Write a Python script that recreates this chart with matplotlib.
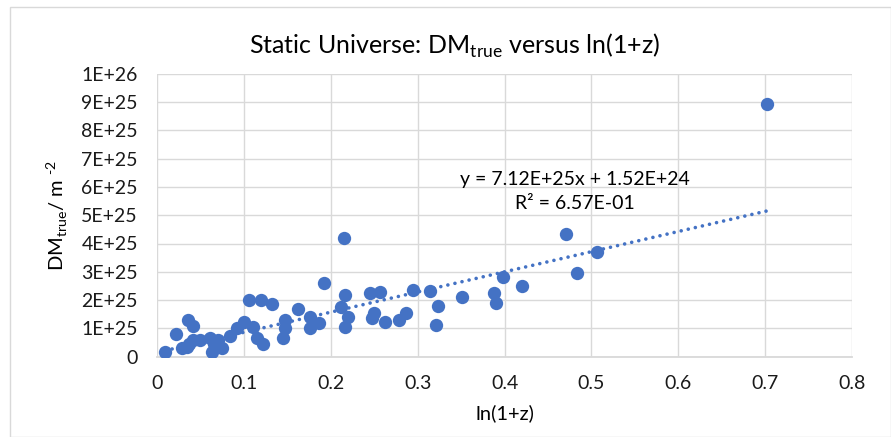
import matplotlib
matplotlib.use("Agg")
import matplotlib.pyplot as plt
import numpy as np
from matplotlib.patches import Rectangle

# ---- data (ln(1+z), DM_true in m^-2) ----
ln1z = [0.0089, 0.0216, 0.0348, 0.0415, 0.0281, 0.0339, 0.0366, 0.0415, 0.0492,
        0.0608, 0.0627, 0.0704, 0.0743, 0.0654, 0.0839, 0.0923, 0.0994, 0.1061,
        0.1107, 0.1196, 0.1326, 0.1146, 0.1216, 0.1473, 0.1473, 0.1453, 0.1626,
        0.1761, 0.1761, 0.1859, 0.1923, 0.2145, 0.2165, 0.2119, 0.2194, 0.2165,
        0.2448, 0.2561, 0.2491, 0.2468, 0.2621, 0.2780, 0.2863, 0.2946, 0.3142,
        0.3230, 0.3211, 0.3511, 0.3875, 0.3901, 0.3984, 0.4203, 0.4702, 0.4829,
        0.5068, 0.7021]
dm_true = [0.18, 0.80, 1.30, 1.08, 0.30, 0.35, 0.45, 0.59, 0.59,
           0.65, 0.18, 0.59, 0.30, 0.45, 0.73, 1.00, 1.24, 1.99,
           1.06, 1.99, 1.86, 0.65, 0.45, 1.30, 1.00, 0.65, 1.67,
           1.39, 1.00, 1.18, 2.62, 4.18, 2.18, 1.76, 1.42, 1.05,
           2.24, 2.30, 1.55, 1.35, 1.24, 1.30, 1.54, 2.37, 2.31,
           1.79, 1.11, 2.12, 2.26, 1.91, 2.81, 2.50, 4.33, 2.95,
           3.69, 8.92]
dm_true = [v * 1e25 for v in dm_true]

slope = 7.12e25
intercept = 1.52e24
r_squared = 0.657

x_ticks = [0, 0.1, 0.2, 0.3, 0.4, 0.5, 0.6, 0.7, 0.8]
y_ticks = [0, 1e25, 2e25, 3e25, 4e25, 5e25, 6e25, 7e25, 8e25, 9e25, 1e26]
y_tick_labels = ["0", "1E+25", "2E+25", "3E+25", "4E+25", "5E+25",
                 "6E+25", "7E+25", "8E+25", "9E+25", "1E+26"]

font = "Lato"
plt.rcParams['font.family'] = [font, 'DejaVu Sans']
plt.rcParams['mathtext.fontset'] = 'custom'
plt.rcParams['mathtext.rm'] = font

fig = plt.figure(figsize=(8.91, 4.37), dpi=100)
fig.patches.append(Rectangle((10/891, 0), 1 - 10/891, 1 - 7/437, transform=fig.transFigure,
                             fill=False, edgecolor="#D9D9D9", linewidth=1.0))
ax = fig.add_axes([157.3/891, 1-356.7/437, (852-157.3)/891, (356.7-73.7)/437])

blue = "#4472C4"
ax.scatter(ln1z, dm_true, s=92, color=blue, zorder=3, linewidths=0)

xs = np.array([min(ln1z), max(ln1z)])
ax.plot(xs, slope * xs + intercept, linestyle=(0, (0.01, 2.0)), color=blue,
        linewidth=2.6, zorder=2, dash_capstyle='round')

ax.set_xlim(0, 0.8)
ax.set_ylim(0, 1e26)
ax.set_xticks(x_ticks)
ax.set_xticklabels([("%g" % t) for t in x_ticks])
ax.set_yticks(y_ticks)
ax.set_yticklabels(y_tick_labels)
ax.grid(True, color="#D9D9D9", linewidth=1.0)
ax.set_axisbelow(True)
for s in ["top", "right", "left"]:
    ax.spines[s].set_visible(False)
ax.spines["bottom"].set_color("#D9D9D9")
ax.spines["bottom"].set_linewidth(1.3)
ax.tick_params(length=0, labelsize=14, colors="#1a1a1a")
ax.tick_params(axis="y", pad=14)
ax.tick_params(axis="x", pad=13)

ax.set_xlabel("ln(1+z)", fontsize=14.5, labelpad=9)
ax.set_ylabel("DM$_\\mathregular{true}$/ m $^\\mathregular{\u2010 2}$", fontsize=14.5, labelpad=8)
fig.text(455/891, 1-46/437, r"Static Universe: DM$_\mathregular{true}$ versus ln(1+z)",
         fontsize=18, ha="center", va="center")

ax.text(0.481, 6.27e25, "y = 7.12E+25x + 1.52E+24", fontsize=14, ha="center", va="center")
ax.text(0.481, 5.42e25, "R² = %.2E" % r_squared, fontsize=14, ha="center", va="center")

fig.savefig("out.png", dpi=100)
